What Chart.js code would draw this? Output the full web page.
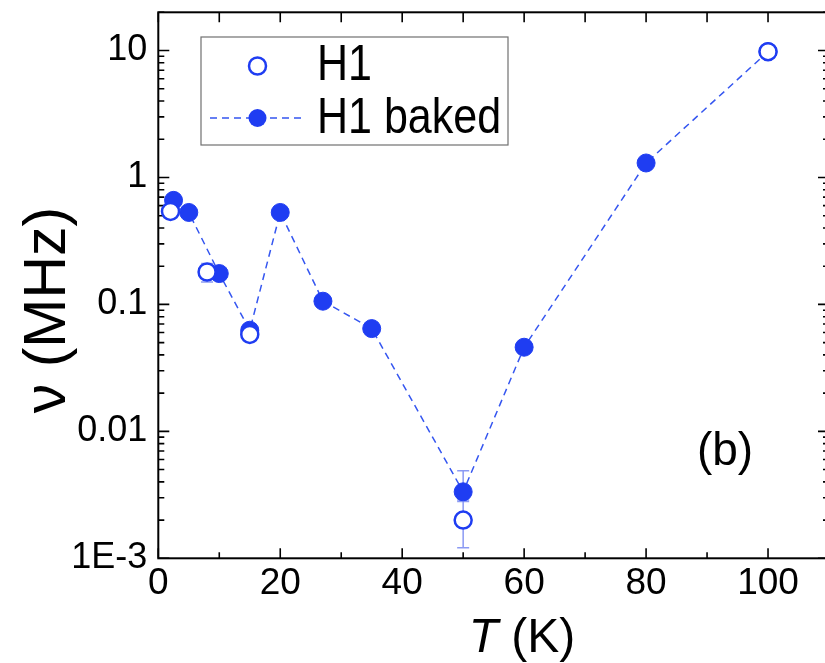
<!DOCTYPE html>
<html>
<head>
<meta charset="utf-8">
<script src="https://cdn.jsdelivr.net/npm/chart.js@4"></script>
<style>
html,body{margin:0;padding:0;background:#fff;overflow:hidden;width:825px;height:663px;}
canvas{display:block;}
</style>
</head>
<body>
<canvas id="c" width="840" height="663"></canvas>
<script>
// ---- data ----
const h1T   = [2, 8, 15, 50, 100];
const h1Nu  = [0.54, 0.18, 0.058, 0.0020, 9.8];
const h1ErrLo = [null, 0.15, null, 0.00121, null];
const h1ErrHi = [null, 0.21, null, 0.0028, null];

const bakedT  = [2.5, 5, 10, 15, 20, 27, 35, 50, 60, 80, 100];
const bakedNu = [0.66, 0.53, 0.175, 0.0626, 0.53, 0.106, 0.0645, 0.00334, 0.046, 1.30, 9.8];
const bakedErrLo = [null, null, null, null, null, null, null, 0.00288, null, null, null];
const bakedErrHi = [null, null, null, null, null, null, null, 0.00489, null, null, null];

const xTickValues = [0, 20, 40, 60, 80, 100];
const xMinorValues = [10, 30, 50, 70, 90, 110];
const yTickValues = [0.001, 0.01, 0.1, 1, 10];
const yTickLabels = ['1E-3', '0.01', '0.1', '1', '10'];

const seriesNames = ['H1', 'H1 baked'];
const panelLabel = '(b)';

const BLUE = '#1f3df2';
const LINE = '#3556f0';
const ERR = '#8b9af3';
const FONT = '"Liberation Sans", Arial, sans-serif';

const toPts = (xs, ys) => xs.map((t, i) => ({x: t, y: ys[i]}));

const framePlugin = {
  id: 'frame',
  beforeDatasetsDraw(chart) {
    const {ctx, chartArea: a, scales: {x, y}} = chart;
    ctx.save();
    // error bars
    ctx.strokeStyle = ERR; ctx.lineWidth = 1.5;
    const bars = [[h1T, h1ErrLo, h1ErrHi], [bakedT, bakedErrLo, bakedErrHi]];
    for (const [ts, lo, hi] of bars) {
      ts.forEach((t, i) => {
        if (lo[i] == null) return;
        const px = x.getPixelForValue(t);
        const p1 = y.getPixelForValue(lo[i]);
        const p2 = y.getPixelForValue(hi[i]);
        ctx.beginPath();
        ctx.moveTo(px, p1); ctx.lineTo(px, p2);
        ctx.moveTo(px - 6, p1); ctx.lineTo(px + 6, p1);
        ctx.moveTo(px - 6, p2); ctx.lineTo(px + 6, p2);
        ctx.stroke();
      });
    }
    // ticks
    ctx.strokeStyle = '#000'; ctx.lineWidth = 1.6;
    ctx.beginPath();
    for (const v of xTickValues) {
      const px = x.getPixelForValue(v);
      ctx.moveTo(px, a.bottom); ctx.lineTo(px, a.bottom - 10);
      ctx.moveTo(px, a.top); ctx.lineTo(px, a.top + 10);
    }
    for (const v of xMinorValues) {
      const px = x.getPixelForValue(v);
      ctx.moveTo(px, a.bottom); ctx.lineTo(px, a.bottom - 6);
      ctx.moveTo(px, a.top); ctx.lineTo(px, a.top + 10);
    }
    for (let d = -3; d <= 1; d++) {
      for (let m = 1; m <= 9; m++) {
        const v = m * Math.pow(10, d);
        if (v > y.max) break;
        const py = y.getPixelForValue(v);
        const len = (m === 1) ? 11 : 6;
        ctx.moveTo(a.left, py); ctx.lineTo(a.left + len, py);
        ctx.moveTo(a.right, py); ctx.lineTo(a.right - len, py);
      }
    }
    ctx.stroke();
    // frame
    ctx.lineWidth = 2;
    ctx.strokeRect(a.left, a.top, a.right - a.left, a.bottom - a.top);
    ctx.restore();
  },
  afterDraw(chart) {
    const {ctx} = chart;
    ctx.save();
    // legend box
    ctx.fillStyle = '#fff';
    ctx.fillRect(201, 37, 307, 108);
    ctx.strokeStyle = '#707070'; ctx.lineWidth = 1.2;
    ctx.strokeRect(201, 37, 307, 108);
    // H1 marker
    ctx.beginPath(); ctx.arc(257.5, 66, 8.5, 0, Math.PI * 2);
    ctx.fillStyle = '#fff'; ctx.fill();
    ctx.strokeStyle = BLUE; ctx.lineWidth = 2.5; ctx.stroke();
    // H1 baked line + marker
    ctx.strokeStyle = LINE; ctx.lineWidth = 1.5; ctx.setLineDash([7, 5]);
    ctx.beginPath(); ctx.moveTo(210, 118); ctx.lineTo(306, 118); ctx.stroke();
    ctx.setLineDash([]);
    ctx.beginPath(); ctx.arc(257.5, 118, 9, 0, Math.PI * 2);
    ctx.fillStyle = BLUE; ctx.fill();
    // legend text (narrow look)
    ctx.fillStyle = '#000';
    ctx.save();
    ctx.translate(317, 0);
    ctx.scale(0.86, 1);
    ctx.font = '50px ' + FONT;
    ctx.textBaseline = 'alphabetic'; ctx.textAlign = 'left';
    ctx.fillText(seriesNames[0], 0, 80);
    ctx.fillText(seriesNames[1], 0, 133);
    ctx.restore();
    // panel label
    ctx.font = '46px ' + FONT;
    ctx.textAlign = 'center';
    ctx.fillText(panelLabel, 725, 465);
    // x title
    ctx.textAlign = 'left';
    ctx.font = 'italic 48px ' + FONT;
    const tW = ctx.measureText('T').width;
    ctx.font = '48px ' + FONT;
    const kW = ctx.measureText(' (K)').width;
    const x0 = 522 - (tW + kW) / 2;
    ctx.font = 'italic 48px ' + FONT;
    ctx.fillText('T', x0, 652);
    ctx.font = '48px ' + FONT;
    ctx.fillText(' (K)', x0 + tW, 652);
    // y title
    ctx.translate(65, 310);
    ctx.rotate(-Math.PI / 2);
    ctx.textAlign = 'center';
    ctx.font = '59px ' + FONT;
    ctx.fillText('ν (MHz)', 0, 0);
    ctx.restore();
  }
};

new Chart(document.getElementById('c'), {
  type: 'scatter',
  data: {
    datasets: [
      {
        label: seriesNames[0],
        data: toPts(h1T, h1Nu),
        showLine: false,
        pointRadius: 8.5,
        pointBackgroundColor: '#fff',
        pointBorderColor: BLUE,
        pointBorderWidth: 2.5
      },
      {
        label: seriesNames[1],
        data: toPts(bakedT, bakedNu),
        showLine: true,
        borderColor: LINE,
        borderWidth: 1.5,
        borderDash: [7, 5],
        pointRadius: 9,
        pointBackgroundColor: BLUE,
        pointBorderColor: BLUE,
        pointBorderWidth: 1
      }
    ]
  },
  options: {
    responsive: false,
    animation: false,
    devicePixelRatio: 1,
    layout: {padding: {left: 0, top: 12.3, right: 9.6, bottom: 0}},
    plugins: {legend: {display: false}, tooltip: {enabled: false}},
    scales: {
      x: {
        type: 'linear', min: 0, max: 110,
        grid: {display: false, drawTicks: false},
        border: {display: false},
        afterBuildTicks: s => { s.ticks = xTickValues.map(v => ({value: v})); },
        afterFit: s => { s.height = 104.7; s.paddingLeft = 0; s.paddingRight = 0; },
        ticks: {
          color: '#000', padding: 3, maxRotation: 0, autoSkip: false,
          font: {family: FONT, size: 37},
          callback: v => String(v)
        }
      },
      y: {
        type: 'logarithmic', min: 0.001, max: 20,
        grid: {display: false, drawTicks: false},
        border: {display: false},
        afterBuildTicks: s => { s.ticks = yTickValues.map(v => ({value: v})); },
        afterFit: s => { s.width = 158.3; s.paddingTop = 0; s.paddingBottom = 0; },
        ticks: {
          color: '#000', padding: 11, autoSkip: false,
          font: {family: FONT, size: 36},
          callback: v => { const i = yTickValues.findIndex(t => Math.abs(t - v) / t < 1e-6); return i >= 0 ? yTickLabels[i] : ''; }
        }
      }
    }
  },
  plugins: [framePlugin]
});
</script>
</body>
</html>
